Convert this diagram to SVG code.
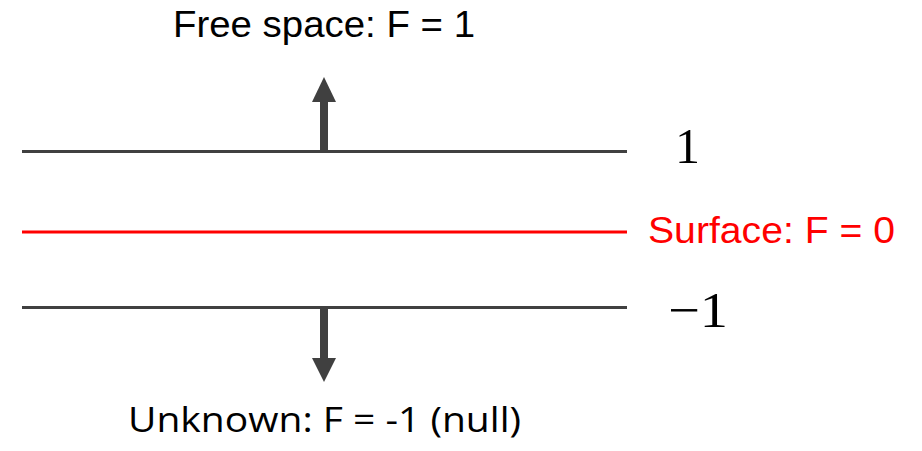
<svg xmlns="http://www.w3.org/2000/svg" width="922" height="451" viewBox="0 0 922 451">
<style>
.ln{stroke:#404040;stroke-width:3;fill:none}
.red{stroke:#ff0000;stroke-width:3;fill:none}
.lbl{font-family:"Liberation Sans","DejaVu Sans",sans-serif;font-size:36.5px;fill:#000}
.math{font-family:"Liberation Serif","DejaVu Serif",serif;font-size:50px;fill:#000}
.arr{fill:#404040}
</style>
<rect width="922" height="451" fill="#fff"/>
<g id="connectors">
<g id="arrow-up"><rect class="arr" x="320" y="100" width="8" height="52"/><polygon class="arr" points="324,77 336,102 312,102"/></g>
<g id="arrow-down"><rect class="arr" x="320" y="308" width="8" height="52"/><polygon class="arr" points="312,358 336,358 324,382"/></g>
</g>
<g id="line-top"><line class="ln" x1="22" y1="151.5" x2="627" y2="151.5"/><text class="math" x="675" y="163">1</text></g>
<g id="line-surface"><line class="red" x1="22" y1="232" x2="627" y2="232"/><text class="lbl" x="648" y="243" style="fill:#ff0000" textLength="247" lengthAdjust="spacingAndGlyphs">Surface: F = 0</text></g>
<g id="line-bottom"><line class="ln" x1="22" y1="307.5" x2="627" y2="307.5"/><text class="math" x="668" y="327" textLength="60" lengthAdjust="spacingAndGlyphs">−1</text></g>
<g id="free"><text class="lbl" x="173" y="37" textLength="302" lengthAdjust="spacingAndGlyphs">Free space: F = 1</text></g>
<g id="unknown"><text class="lbl" style="font-family:'Open Sans','Liberation Sans',sans-serif;font-size:35px" x="128" y="432" textLength="393" lengthAdjust="spacingAndGlyphs">Unknown: F = -1 (null)</text></g>
</svg>
